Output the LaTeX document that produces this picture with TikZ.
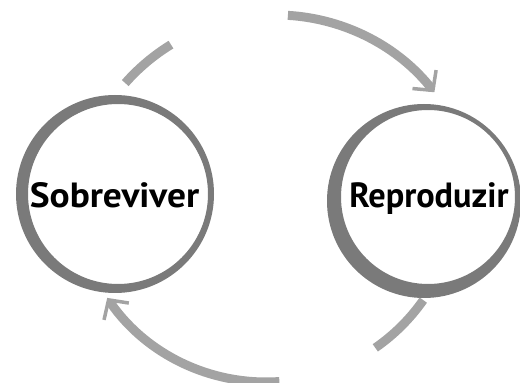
\documentclass[tikz,border=0pt]{standalone}
\usepackage{fontspec}
\setmainfont{PT Sans}
\usetikzlibrary{arrows.meta}
\begin{document}
\begin{tikzpicture}[x=1pt,y=1pt,
  ring/.style={fill=black!52, even odd rule},
  flowpart/.style={draw=black!36, line width=9pt},
  flow/.style={flowpart, -{Straight Barb[length=14pt,width=30pt,line width=3.5pt]}},
  word/.style={font=\fontsize{35}{35}\selectfont\bfseries, inner sep=0pt, anchor=base}]
\useasboundingbox (0,0) rectangle (520,383);
\clip (0,0) rectangle (520,383);
% rings
\fill[ring] (115,189) circle[radius=99] (118,189) circle[radius=90];
\fill[ring] (424,182) circle[radius=97] (428,186) circle[radius=87];
% labels
\node[word] (sob) at (114.5,175) {\scalebox{1.07}[1]{Sobreviver}};
\node[word] (rep) at (429,175) {\scalebox{0.98}[1]{Reproduzir}};
% arc centres
\coordinate (tc) at (276,167);
\coordinate (bc) at (266,193);
% top flow: Sobreviver -> Reproduzir
\draw[flowpart] (tc) ++(138.6:201) arc[start angle=138.6, end angle=121.5, radius=201];
\draw[flow] (tc) ++(86.6:201) arc[start angle=86.6, end angle=38, radius=201];
% bottom flow: Reproduzir -> Sobreviver
\draw[flowpart] (bc) ++(-35:192) arc[start angle=-35, end angle=-55.3, radius=192];
\draw[flow] (bc) ++(-86:192) arc[start angle=-86, end angle=-145.8, radius=192];
\end{tikzpicture}
\end{document}
